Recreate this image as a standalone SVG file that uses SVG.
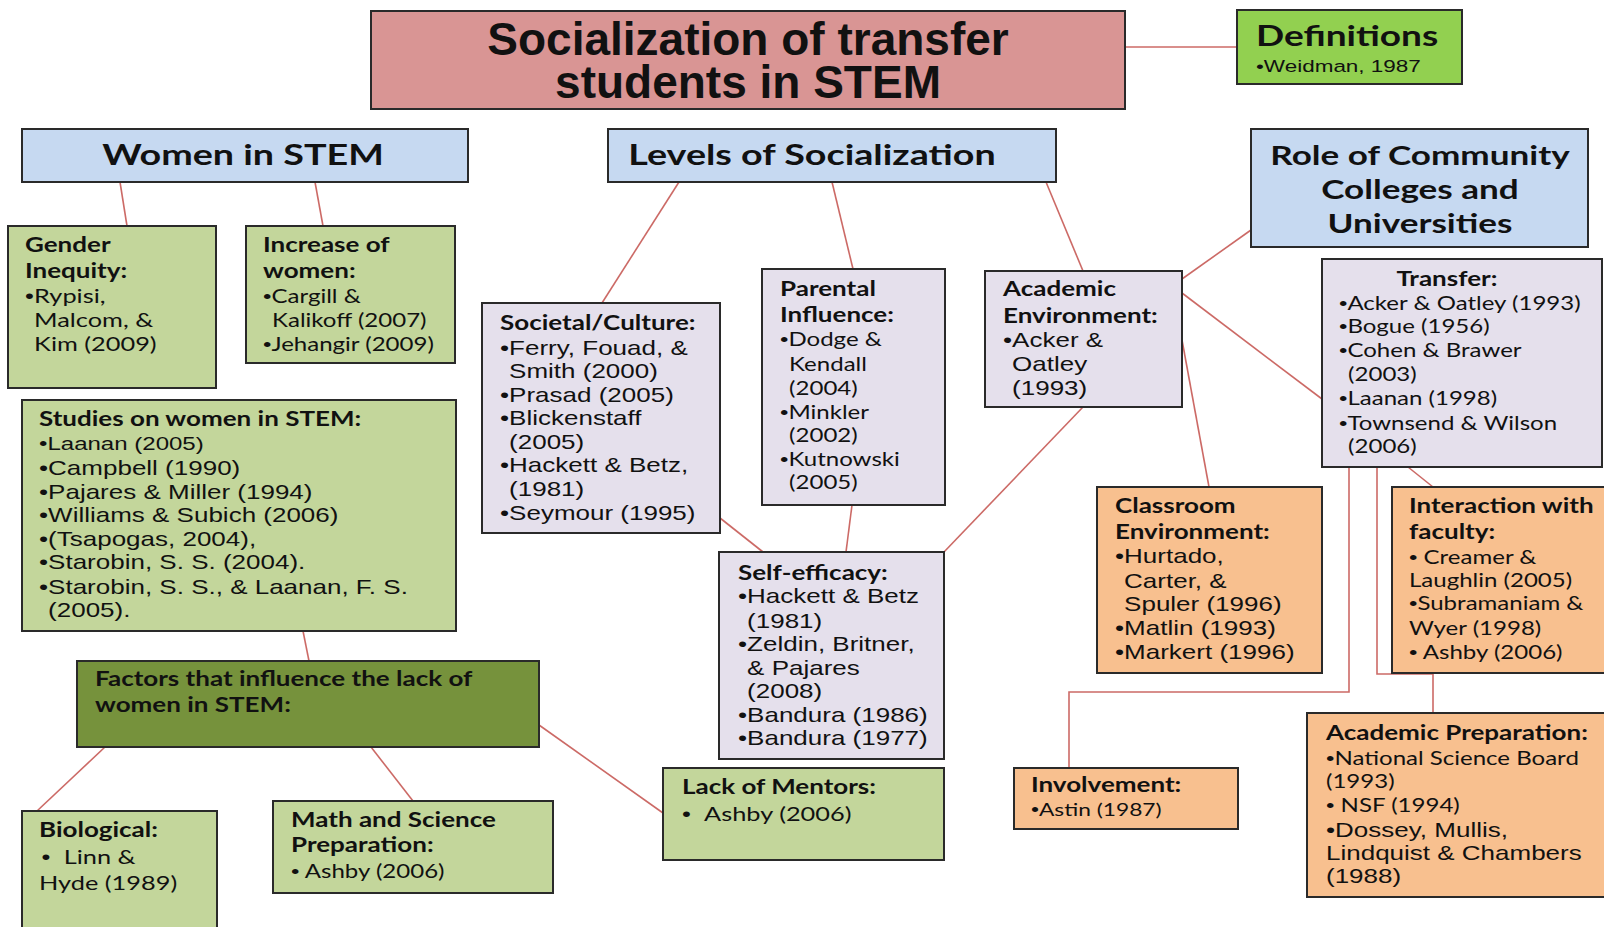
<svg xmlns="http://www.w3.org/2000/svg" width="1604" height="927" viewBox="0 0 1604 927">
<style>
.bx{stroke:#2a2a2a;stroke-width:2}
.pink{fill:#d99594}.lime{fill:#92d050}.blue{fill:#c6d9f1}.lg{fill:#c3d69b}.lav{fill:#e5e0ec}.org{fill:#f8c08f}.dg{fill:#76923c}
text{fill:#111}
.t{font-family:"Liberation Sans",Arial,sans-serif;font-weight:bold;font-size:46px}
.H{font-family:Lato,"Open Sans",sans-serif;font-weight:bold;font-size:29px}
.h{font-family:Lato,"Open Sans",sans-serif;font-weight:bold;font-size:20px}
.c{font-family:Lato,"Open Sans",sans-serif;font-size:18.5px}
.cl{font-size:19.5px}
.a{font-family:"Liberation Sans",Arial,sans-serif;font-size:20px}
.b{font-family:"Liberation Sans",Arial,sans-serif}
.cn{stroke:#cc6a66;stroke-width:1.6;fill:none}
</style>
<g id="connectors">
<line class="cn" x1="1125" y1="47" x2="1237" y2="47"/>
<line class="cn" x1="120" y1="182" x2="127" y2="226"/>
<line class="cn" x1="315" y1="182" x2="323" y2="226"/>
<line class="cn" x1="303" y1="631" x2="309" y2="661"/>
<line class="cn" x1="679" y1="182" x2="602" y2="303"/>
<line class="cn" x1="832" y1="182" x2="853" y2="269"/>
<line class="cn" x1="1046" y1="182" x2="1083" y2="271"/>
<line class="cn" x1="1251" y1="230" x2="1182" y2="279"/>
<line class="cn" x1="1182" y1="293" x2="1322" y2="399"/>
<line class="cn" x1="1182" y1="340" x2="1209" y2="487"/>
<line class="cn" x1="1083" y1="407" x2="944" y2="552"/>
<line class="cn" x1="720" y1="518" x2="763" y2="552"/>
<line class="cn" x1="852" y1="505" x2="846" y2="552"/>
<line class="cn" x1="1408" y1="467" x2="1433" y2="487"/>
<polyline class="cn" points="1349,467 1349,692 1069,692 1069,768"/>
<polyline class="cn" points="1377,467 1377,674 1433,674 1433,713"/>
<line class="cn" x1="105" y1="747" x2="37" y2="811"/>
<line class="cn" x1="371" y1="747" x2="413" y2="801"/>
<line class="cn" x1="539" y1="725" x2="663" y2="813"/>
</g>
<g id="title"><rect class="bx pink" x="371" y="11" width="754" height="98"/>
<text class="t" text-anchor="middle"><tspan x="748" y="55">Socialization of transfer</tspan><tspan x="748" y="98">students in STEM</tspan></text></g>
<g id="definitions"><rect class="bx lime" x="1237" y="10" width="225" height="74"/>
<text transform="translate(1256 0) scale(1.3 1)"><tspan class="H" x="0" y="46" style="font-size:28.5px">Definitions</tspan><tspan class="a" x="0" y="72" style="font-size:17.3px">•Weidman, 1987</tspan></text></g>
<g id="women"><rect class="bx blue" x="22" y="129" width="446" height="53"/>
<text class="H" text-anchor="middle" transform="translate(243 0) scale(1.3 1)"><tspan x="0" y="165">Women in STEM</tspan></text></g>
<g id="levels"><rect class="bx blue" x="608" y="129" width="448" height="53"/>
<text class="H" text-anchor="middle" transform="translate(812 0) scale(1.3 1)"><tspan x="0" y="165">Levels of Socialization</tspan></text></g>
<g id="role"><rect class="bx blue" x="1251" y="129" width="337" height="118"/>
<text class="H" text-anchor="middle" transform="translate(1420 0) scale(1.3 1)" style="font-size:27px"><tspan x="0" y="165">Role of Community</tspan><tspan x="0" y="199">Colleges and</tspan><tspan x="0" y="233">Universities</tspan></text></g>
<g id="gender"><rect class="bx lg" x="8" y="226" width="208" height="162"/>
<text transform="translate(25 0) scale(1.3 1)"><tspan class="h" x="0" y="252">Gender</tspan><tspan class="h" x="0" y="278">Inequity:</tspan><tspan class="c cl" x="0" y="303"><tspan class="b">•</tspan>Rypisi,</tspan><tspan class="c cl" x="7" y="327">Malcom, &amp;</tspan><tspan class="c cl" x="7" y="351">Kim (2009)</tspan></text></g>
<g id="increase"><rect class="bx lg" x="246" y="226" width="209" height="137"/>
<text transform="translate(263 0) scale(1.3 1)"><tspan class="h" x="0" y="252">Increase of</tspan><tspan class="h" x="0" y="278">women:</tspan><tspan class="c" x="0" y="303"><tspan class="b">•</tspan>Cargill &amp;</tspan><tspan class="c" x="7" y="327">Kalikoff (2007)</tspan><tspan class="c" x="0" y="351"><tspan class="b">•</tspan>Jehangir (2009)</tspan></text></g>
<g id="studies"><rect class="bx lg" x="22" y="400" width="434" height="231"/>
<text transform="translate(39 0) scale(1.3 1)"><tspan class="h" x="0" y="426">Studies on women in STEM:</tspan><tspan class="a" x="0" y="450" style="font-size:18.5px">•Laanan (2005)</tspan><tspan class="a" x="0" y="475">•Campbell (1990)</tspan><tspan class="a" x="0" y="499">•Pajares &amp; Miller (1994)</tspan><tspan class="a" x="0" y="522">•Williams &amp; Subich (2006)</tspan><tspan class="a" x="0" y="546">•(Tsapogas, 2004),</tspan><tspan class="a" x="0" y="569">•Starobin, S. S. (2004).</tspan><tspan class="a" x="0" y="594">•Starobin, S. S., &amp; Laanan, F. S.</tspan><tspan class="a" x="7" y="617">(2005).</tspan></text></g>
<g id="societal"><rect class="bx lav" x="482" y="303" width="238" height="230"/>
<text transform="translate(500 0) scale(1.3 1)"><tspan class="h" x="0" y="330">Societal/Culture:</tspan><tspan class="a" x="0" y="355">•Ferry, Fouad, &amp;</tspan><tspan class="a" x="7" y="378">Smith (2000)</tspan><tspan class="a" x="0" y="402">•Prasad (2005)</tspan><tspan class="a" x="0" y="425">•Blickenstaff</tspan><tspan class="a" x="7" y="449">(2005)</tspan><tspan class="a" x="0" y="472">•Hackett &amp; Betz,</tspan><tspan class="a" x="7" y="496">(1981)</tspan><tspan class="a" x="0" y="520">•Seymour (1995)</tspan></text></g>
<g id="parental"><rect class="bx lav" x="762" y="269" width="183" height="236"/>
<text transform="translate(780 0) scale(1.3 1)"><tspan class="h" x="0" y="296">Parental</tspan><tspan class="h" x="0" y="322">Influence:</tspan><tspan class="c" x="0" y="346"><tspan class="b">•</tspan>Dodge &amp;</tspan><tspan class="c" x="7" y="371">Kendall</tspan><tspan class="c" x="7" y="395">(2004)</tspan><tspan class="c" x="0" y="419"><tspan class="b">•</tspan>Minkler</tspan><tspan class="c" x="7" y="442">(2002)</tspan><tspan class="c" x="0" y="466"><tspan class="b">•</tspan>Kutnowski</tspan><tspan class="c" x="7" y="489">(2005)</tspan></text></g>
<g id="academic-env"><rect class="bx lav" x="985" y="271" width="197" height="136"/>
<text transform="translate(1003 0) scale(1.3 1)"><tspan class="h" x="0" y="296">Academic</tspan><tspan class="h" x="0" y="323">Environment:</tspan><tspan class="a" x="0" y="347">•Acker &amp;</tspan><tspan class="a" x="7" y="371">Oatley</tspan><tspan class="a" x="7" y="395">(1993)</tspan></text></g>
<g id="transfer"><rect class="bx lav" x="1322" y="259" width="280" height="208"/>
<text transform="translate(1339 0) scale(1.3 1)"><tspan class="h" x="83" y="286" text-anchor="middle">Transfer:</tspan><tspan class="c" x="0" y="310"><tspan class="b">•</tspan>Acker &amp; Oatley (1993)</tspan><tspan class="c" x="0" y="333"><tspan class="b">•</tspan>Bogue (1956)</tspan><tspan class="c" x="0" y="357"><tspan class="b">•</tspan>Cohen &amp; Brawer</tspan><tspan class="c" x="7" y="381">(2003)</tspan><tspan class="c" x="0" y="405"><tspan class="b">•</tspan>Laanan (1998)</tspan><tspan class="c" x="0" y="430"><tspan class="b">•</tspan>Townsend &amp; Wilson</tspan><tspan class="c" x="7" y="453">(2006)</tspan></text></g>
<g id="self-efficacy"><rect class="bx lav" x="719" y="552" width="225" height="207"/>
<text transform="translate(738 0) scale(1.3 1)"><tspan class="h" x="0" y="580">Self-efficacy:</tspan><tspan class="a" x="0" y="603">•Hackett &amp; Betz</tspan><tspan class="a" x="7" y="628">(1981)</tspan><tspan class="a" x="0" y="651">•Zeldin, Britner,</tspan><tspan class="a" x="7" y="675">&amp; Pajares</tspan><tspan class="a" x="7" y="698">(2008)</tspan><tspan class="a" x="0" y="722">•Bandura (1986)</tspan><tspan class="a" x="0" y="745">•Bandura (1977)</tspan></text></g>
<g id="classroom"><rect class="bx org" x="1097" y="487" width="225" height="186"/>
<text transform="translate(1115 0) scale(1.3 1)"><tspan class="h" x="0" y="513">Classroom</tspan><tspan class="h" x="0" y="539">Environment:</tspan><tspan class="a" x="0" y="563">•Hurtado,</tspan><tspan class="a" x="7" y="588">Carter, &amp;</tspan><tspan class="a" x="7" y="611">Spuler (1996)</tspan><tspan class="a" x="0" y="635">•Matlin (1993)</tspan><tspan class="a" x="0" y="659">•Markert (1996)</tspan></text></g>
<g id="interaction"><rect class="bx org" x="1392" y="487" width="216" height="186"/>
<text transform="translate(1409 0) scale(1.3 1)"><tspan class="h" x="0" y="513">Interaction with</tspan><tspan class="h" x="0" y="539">faculty:</tspan><tspan class="c" x="0" y="564"><tspan class="b">•</tspan> Creamer &amp;</tspan><tspan class="c" x="0" y="587">Laughlin (2005)</tspan><tspan class="c" x="0" y="610"><tspan class="b">•</tspan>Subramaniam &amp;</tspan><tspan class="c" x="0" y="635">Wyer (1998)</tspan><tspan class="c" x="0" y="659"><tspan class="b">•</tspan> Ashby (2006)</tspan></text></g>
<g id="factors"><rect class="bx dg" x="77" y="661" width="462" height="86"/>
<text transform="translate(95 0) scale(1.3 1)"><tspan class="h" x="0" y="686">Factors that influence the lack of</tspan><tspan class="h" x="0" y="712">women in STEM:</tspan></text></g>
<g id="mentors"><rect class="bx lg" x="663" y="768" width="281" height="92"/>
<text transform="translate(682 0) scale(1.3 1)"><tspan class="h" x="0" y="794">Lack of Mentors:</tspan><tspan class="c cl" x="0" y="821"><tspan class="b">•</tspan></tspan><tspan class="c cl" x="17" y="821">Ashby (2006)</tspan></text></g>
<g id="biological"><rect class="bx lg" x="22" y="811" width="195" height="130"/>
<text transform="translate(39 0) scale(1.3 1)"><tspan class="h" x="0" y="837">Biological:</tspan><tspan class="c cl" x="2" y="864"><tspan class="b">•</tspan></tspan><tspan class="c cl" x="19" y="864">Linn &amp;</tspan><tspan class="c cl" x="0" y="890">Hyde (1989)</tspan></text></g>
<g id="math-science"><rect class="bx lg" x="273" y="801" width="280" height="92"/>
<text transform="translate(291 0) scale(1.3 1)"><tspan class="h" x="0" y="827">Math and Science</tspan><tspan class="h" x="0" y="852">Preparation:</tspan><tspan class="c" x="0" y="878"><tspan class="b">•</tspan> Ashby (2006)</tspan></text></g>
<g id="involvement"><rect class="bx org" x="1014" y="768" width="224" height="61"/>
<text transform="translate(1031 0) scale(1.3 1)"><tspan class="h" x="0" y="792">Involvement:</tspan><tspan class="c" x="0" y="816" style="font-size:17.5px"><tspan class="b">•</tspan>Astin (1987)</tspan></text></g>
<g id="academic-prep"><rect class="bx org" x="1307" y="713" width="300" height="184"/>
<text transform="translate(1326 0) scale(1.3 1)"><tspan class="h" x="0" y="740">Academic Preparation:</tspan><tspan class="c" x="0" y="765"><tspan class="b">•</tspan>National Science Board</tspan><tspan class="c" x="0" y="788">(1993)</tspan><tspan class="c" x="0" y="812"><tspan class="b">•</tspan> NSF (1994)</tspan><tspan class="a" x="0" y="837">•Dossey, Mullis,</tspan><tspan class="a" x="0" y="860">Lindquist &amp; Chambers</tspan><tspan class="a" x="0" y="883">(1988)</tspan></text></g>
</svg>
